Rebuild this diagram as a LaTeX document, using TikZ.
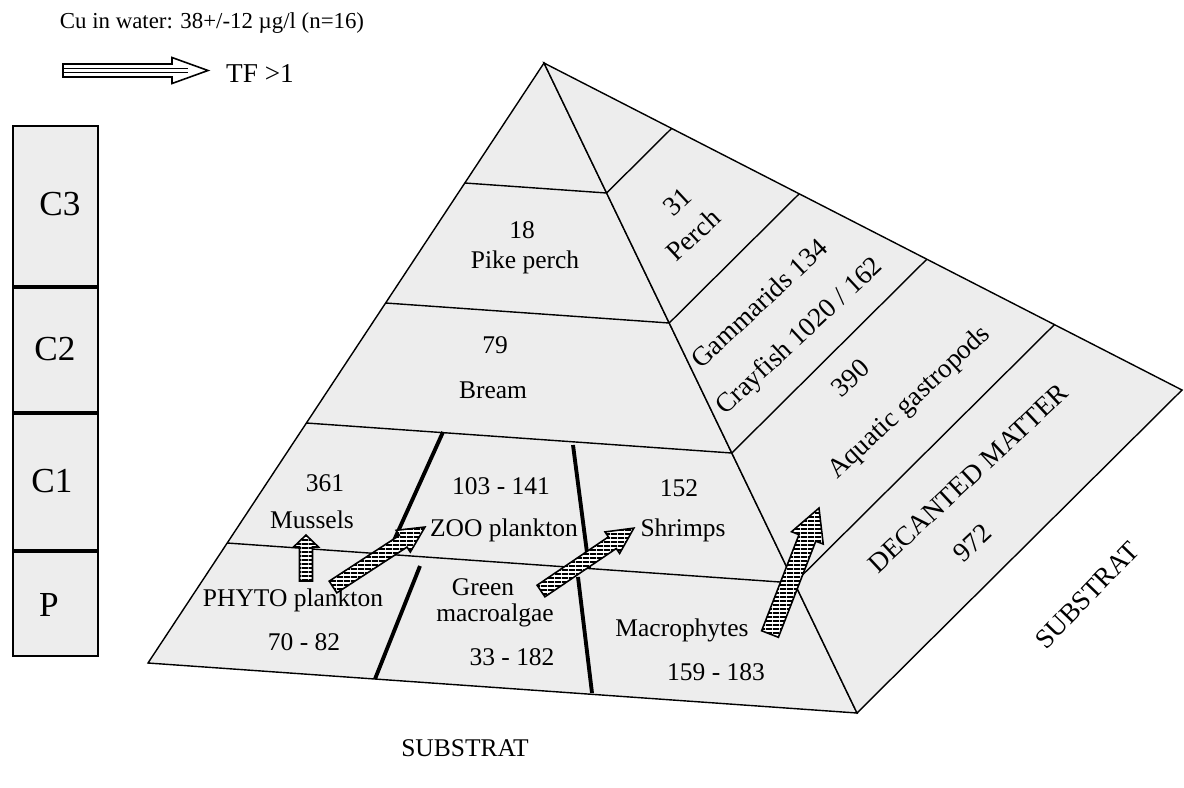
\documentclass[tikz,border=0pt]{standalone}
\usepackage{fontspec}
\setmainfont{Liberation Serif}
\usetikzlibrary{calc, patterns}

% horizontal hatching for the transfer arrows
\pgfdeclarepatternformonly{finelines}{\pgfqpoint{0pt}{0pt}}{\pgfqpoint{4pt}{2.5pt}}{\pgfqpoint{4pt}{2.5pt}}{%
  \pgfpathrectangle{\pgfqpoint{0pt}{0pt}}{\pgfqpoint{4pt}{1.2pt}}\pgfusepath{fill}}

\tikzset{
  face/.style={draw=black, line width=0.8pt, fill=black!7},
  level/.style={line width=0.8pt},
  split/.style={line width=2.2pt},
  frontlabel/.style={font=\fontsize{14.5}{16}\selectfont, inner sep=0pt},
  sidelabel/.style={font=\fontsize{15.5}{17}\selectfont, rotate=43, inner sep=0pt},
  sublabel/.style={font=\fontsize{15.5}{17}\selectfont, rotate=46, inner sep=0pt},
  tierbox/.style={draw=black, line width=1.4pt, fill=black!7},
  tierlabel/.style={font=\fontsize{20}{22}\selectfont, inner sep=0pt},
  stripes/.style={draw=black, line width=0.9pt, preaction={fill=white}, pattern=finelines},
}

% hatched block arrow: tail, tip, half shaft, half head, head length
\newcommand{\stripearrow}[5]{%
  \path let \p1 = ($(#2)-(#1)$) in \pgfextra{%
    \pgfmathparse{atan2(\y1,\x1)}\xdef\arrowangle{\pgfmathresult}%
    \pgfmathparse{veclen(\x1,\y1)/0.56905}\xdef\arrowlength{\pgfmathresult}};
  \begin{scope}[shift={(#1)}, rotate=\arrowangle]
    \draw[stripes] (0,-#3) -- ({\arrowlength-#5},-#3) -- ({\arrowlength-#5},-#4)
      -- (\arrowlength,0) -- ({\arrowlength-#5},#4) -- ({\arrowlength-#5},#3)
      -- (0,#3) -- cycle;
  \end{scope}}

\begin{document}
\begin{tikzpicture}[x=0.2mm, y=-0.2mm]
    \useasboundingbox (0,0) rectangle (1184,787);

    % Header and legend arrow
    \node[font=\fontsize{13}{15}\selectfont, inner sep=0pt] (cu) at (212,23) {Cu in water: 38+/-12 µg/l (n=16)};
    \node[font=\fontsize{15.5}{17}\selectfont, inner sep=0pt] (tf) at (260,74) {TF >1};
    \coordinate (tf-tail) at (63,70.5);
    \begin{scope}[shift={(tf-tail)}]
        \draw[line width=0.9pt, fill=white] (0,-6.5) -- (109,-6.5) -- (109,-13) -- (145,0)
            -- (109,13) -- (109,6.5) -- (0,6.5) -- cycle;
        \draw[line width=0.5pt] (0,-2) -- (125,-2) (0,2) -- (125,2);
    \end{scope}

    % Trophic levels column
    \draw[tierbox] (13,126) rectangle (98,656);
    \foreach \y in {287,413,551}
        \draw[line width=2.2pt] (13,\y) -- (98,\y);
    \node[tierlabel] (c3) at (60,204) {C3};
    \node[tierlabel] (c2) at (55,349) {C2};
    \node[tierlabel] (c1) at (52,481) {C1};
    \node[tierlabel] (p) at (49,605) {P};

    % Pyramid
    \coordinate (apex) at (544,63);
    \coordinate (bl) at (148,663);
    \coordinate (fr) at (857,713);
    \coordinate (br) at (1182,390);
    \filldraw[face] (apex) -- (bl) -- (fr) -- cycle;
    \filldraw[face] (apex) -- (fr) -- (br) -- cycle;
    \foreach \t in {0.2,0.4,0.6,0.8}
        \draw[level] ($(apex)!\t!(bl)$) -- ($(apex)!\t!(fr)$) -- ($(apex)!\t!(br)$);

    % Splits of the two lower front levels
    \draw[split] (443,432) -- (391,547);
    \draw[split] (420,566) -- (375,679);
    \draw[split] (573,445) -- (589,568);
    \draw[split] (578,577) -- (592,693);

    % Front face
    \node[frontlabel] (pike-val) at (522,230) {18};
    \node[frontlabel] (pike) at (525,262) {Pike perch};
    \node[frontlabel] (bream-val) at (495,345) {79};
    \node[frontlabel] (bream) at (493,390) {Bream};
    \node[frontlabel] (mussels-val) at (325,483) {361};
    \node[frontlabel] (mussels) at (312,520) {Mussels};
    \node[frontlabel] (zoo-val) at (501,486) {103 - 141};
    \node[frontlabel] (zoo) at (504,530) {ZOO plankton};
    \node[frontlabel] (shrimps-val) at (679,488) {152};
    \node[frontlabel] (shrimps) at (683,530) {Shrimps};
    \node[frontlabel] (phyto) at (293,600) {PHYTO plankton};
    \node[frontlabel] (phyto-val) at (304,642) {70 - 82};
    \node[frontlabel] (algae) at (483,587) {Green};
    \node[frontlabel] (algae2) at (495,615) {macroalgae};
    \node[frontlabel] (algae-val) at (512,657) {33 - 182};
    \node[frontlabel] (macro) at (682,630) {Macrophytes};
    \node[frontlabel] (macro-val) at (716,672) {159 - 183};

    % Side face
    \node[sidelabel] (perch-val) at (677,202) {31};
    \node[sidelabel] (perch) at (693,235) {Perch};
    \node[sidelabel] (gamma) at (759,303) {Gammarids 134};
    \node[sidelabel] (cray) at (800,337) {Crayfish 1020 / 162};
    \node[sidelabel] (gastro-val) at (850,378) {390};
    \node[sidelabel] (gastro) at (910,403) {Aquatic gastropods};
    \node[sidelabel] (decant) at (968,478) {DECANTED MATTER};
    \node[sidelabel] (decant-val) at (972,543) {972};

    % Substrate
    \node[sublabel] (sub-side) at (1087,595) {SUBSTRAT};
    \node[frontlabel] (sub-base) at (465,748) {SUBSTRAT};

    % Transfers with TF > 1
    \coordinate (phyto-up) at (306,581);
    \coordinate (mussels-in) at (306,535);
    \coordinate (phyto-out) at (333,587);
    \coordinate (zoo-in) at (425,527);
    \coordinate (algae-out) at (541,591);
    \coordinate (shrimps-in) at (634,528);
    \coordinate (macro-out) at (770,634);
    \coordinate (gastro-in) at (819,508);
    \stripearrow{phyto-up}{mussels-in}{6.5}{12.5}{12}
    \stripearrow{phyto-out}{zoo-in}{7}{13}{26}
    \stripearrow{algae-out}{shrimps-in}{7}{13}{26}
    \stripearrow{macro-out}{gastro-in}{9}{17}{32}
\end{tikzpicture}
\end{document}
